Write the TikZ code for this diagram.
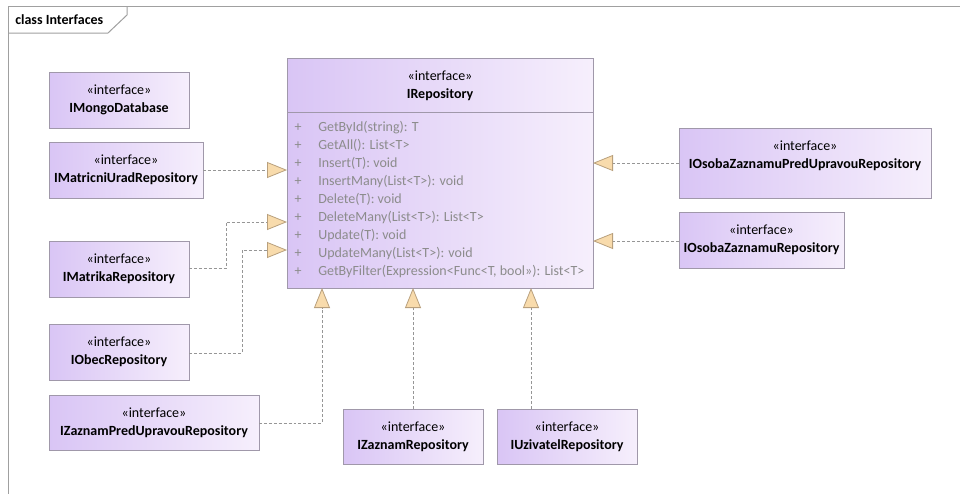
\documentclass[tikz,border=0pt]{standalone}
\usepackage{fontspec}
\setmainfont{Carlito}
\usetikzlibrary{arrows.meta}
\definecolor{boxL}{RGB}{217,197,245}
\definecolor{boxR}{RGB}{246,239,252}
\definecolor{boxB}{RGB}{160,152,170}
\definecolor{tipF}{RGB}{248,219,172}
\definecolor{tipB}{RGB}{185,160,125}
\definecolor{lineC}{RGB}{150,150,150}
\definecolor{memC}{RGB}{140,140,140}
\definecolor{frameC}{RGB}{160,160,160}
\newcommand\IfaceBox[6]{%
  \node[ibox, minimum width={(#4-#2)*0.75pt}, minimum height={(#5-#3)*0.75pt}] (#1) at (#2,#3) {};
  \node[ititle] (#1t) at ([yshift=-9.4pt]#1.north) {«interface»\\\textbf{#6}};}
\begin{document}
\begin{tikzpicture}[x=0.75pt,y=-0.75pt,
  font=\fontsize{10.5}{13.2}\selectfont,
  ibox/.style={draw=boxB, line width=0.75pt, left color=boxL, right color=boxR,
    anchor=north west, inner sep=0pt, outer sep=0pt},
  ititle/.style={anchor=north, inner sep=0pt, align=center, text=black},
  member/.style={anchor=base west, inner sep=0pt, text=memC},
  realize/.style={draw=lineC, line width=0.6pt, dash pattern=on 2.2pt off 1.5pt,
    -{Triangle[length=15pt,width=12pt,fill=tipF,color=tipB,line width=0.6pt]}},
  framestyle/.style={draw=frameC, line width=0.75pt}]
\clip (0,0) rectangle (960,493);
\fill[white] (0,0) rectangle (960,493);
% frame
\draw[framestyle] (8,520) -- (8,6) -- (980,6);
\draw[framestyle] (8,33) -- (108,33) -- (127,15) -- (127,6);
\node[anchor=west, inner sep=0pt, font=\fontsize{10.5}{12}\selectfont\bfseries] (frametitle) at (15,20) {class Interfaces};
% boxes
\IfaceBox{repo}{287}{58}{593}{288}{IRepository}
\draw[draw=boxB, line width=0.75pt] (repo.west |- 0,112) -- (repo.east |- 0,112);
\foreach \t [count=\i] in {GetById(string): T, GetAll(): List<T>, Insert(T): void,
  InsertMany(List<T>): void, Delete(T): void, DeleteMany(List<T>): List<T>,
  Update(T): void, UpdateMany(List<T>): void, {GetByFilter(Expression<Func<T, bool>>): List<T>}}{
  \node[member, anchor=base] (p\i) at (298,{131.5+18*(\i-1)}) {+};
  \node[member] (m\i) at (318,{131.5+18*(\i-1)}) {\t};
}
\IfaceBox{mongo}{49}{72}{189}{128}{IMongoDatabase}
\IfaceBox{matricni}{49}{142}{203}{198}{IMatricniUradRepository}
\IfaceBox{matrika}{49}{241}{189}{297}{IMatrikaRepository}
\IfaceBox{obec}{49}{324}{189}{380}{IObecRepository}
\IfaceBox{zpred}{49}{395}{259}{450}{IZaznamPredUpravouRepository}
\IfaceBox{zaznam}{343}{409}{483}{464}{IZaznamRepository}
\IfaceBox{uziv}{497}{409}{637}{464}{IUzivatelRepository}
\IfaceBox{opred}{679}{128}{931}{198}{IOsobaZaznamuPredUpravouRepository}
\IfaceBox{osoba}{679}{212}{844}{268}{IOsobaZaznamuRepository}
% connectors
\draw[realize] (matricni.east) -- (repo.west |- matricni.east);
\draw[realize] (matrika.east |- 0,268) -- (226,268) -- (226,222) -- (repo.west |- 0,222);
\draw[realize] (obec.east |- 0,353) -- (242,353) -- (242,250) -- (repo.west |- 0,250);
\draw[realize] (zpred.east |- 0,423) -- (322,423) -- (repo.south -| 322,0);
\draw[realize] (zaznam.north -| 413,0) -- (repo.south -| 413,0);
\draw[realize] (uziv.north -| 531,0) -- (repo.south -| 531,0);
\draw[realize] (opred.west |- 0,163) -- (repo.east |- 0,163);
\draw[realize] (osoba.west |- 0,241) -- (repo.east |- 0,241);
\end{tikzpicture}
\end{document}
